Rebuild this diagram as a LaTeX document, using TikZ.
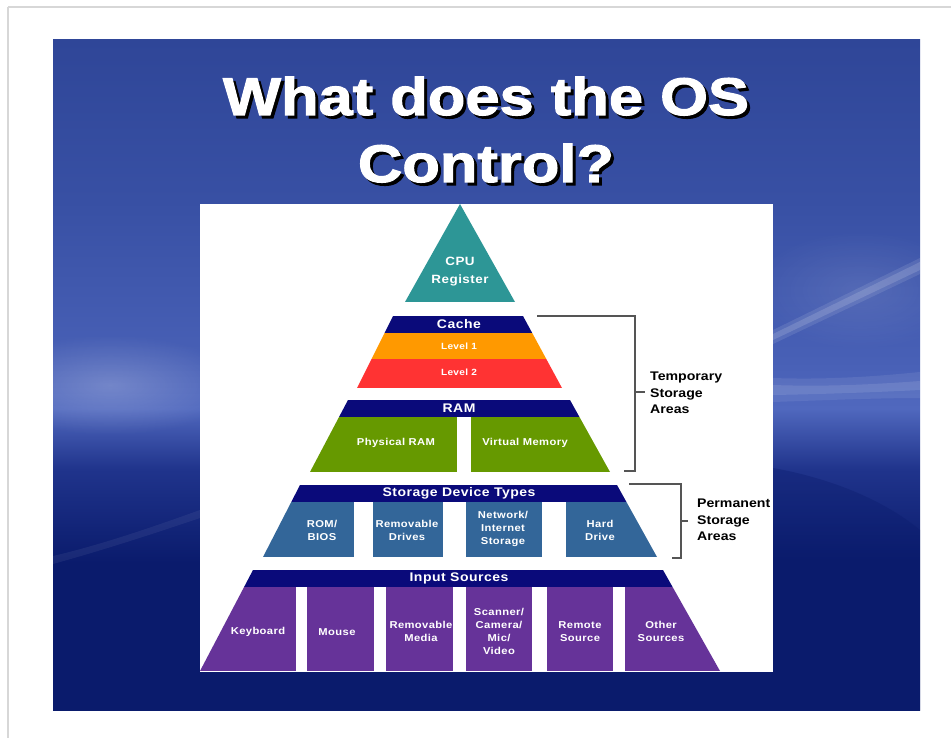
\documentclass[tikz,border=0pt]{standalone}
\usepackage{fontspec}
\setmainfont{Liberation Sans}
\newfontfamily\diagfont{Liberation Sans}[BoldFeatures={FakeStretch=1.12,LetterSpace=4}]
\newfontfamily\sidefont{Liberation Sans}[BoldFeatures={FakeStretch=1.13}]
\newfontfamily\titlefont{Liberation Sans}[BoldFeatures={FakeStretch=1.16,FakeBold=2}]
\usetikzlibrary{fadings}
\definecolor{slideA}{RGB}{47,70,152}
\definecolor{bgupper}{RGB}{56,80,164}
\definecolor{bgglowB}{RGB}{72,96,182}
\definecolor{bgglow}{RGB}{80,104,190}
\definecolor{bgmid}{RGB}{32,52,140}
\definecolor{bgnavy}{RGB}{10,27,108}
\definecolor{teal}{RGB}{45,150,150}
\definecolor{navyband}{RGB}{10,10,122}
\definecolor{orangeband}{RGB}{255,153,0}
\definecolor{redband}{RGB}{255,51,51}
\definecolor{greenband}{RGB}{102,153,0}
\definecolor{bluebox}{RGB}{51,102,153}
\definecolor{purplebox}{RGB}{102,51,153}
\definecolor{bracketgray}{RGB}{85,85,85}
\definecolor{pageline}{RGB}{215,215,215}
\pgfdeclareverticalshading{slidebg}{100bp}{color(0bp)=(bgnavy); color(36bp)=(bgnavy); color(43bp)=(bgmid); color(47.5bp)=(bgglow); color(51bp)=(bgglowB); color(63bp)=(bgupper); color(75bp)=(slideA); color(100bp)=(slideA)}
\tikzfading[name=glowfade, inner color=transparent!0, outer color=transparent!100]
\newcommand{\shtxt}[1]{\makebox[0pt][l]{\raisebox{-3pt}{\hspace*{3pt}\textcolor{black}{#1}}}#1}
\begin{document}
\begin{tikzpicture}[x=1pt,y=-1pt,
  boxlbl/.style={text=white, font=\diagfont\bfseries\fontsize{10}{13}\selectfont, align=center, inner sep=0pt},
  bandlbl/.style={text=white, font=\diagfont\bfseries\fontsize{12.5}{14}\selectfont, inner sep=0pt},
  levellbl/.style={text=white, font=\diagfont\bfseries\fontsize{9}{11}\selectfont, inner sep=0pt},
  sidelbl/.style={text=black, font=\sidefont\bfseries\fontsize{12.5}{16.5}\selectfont, align=left, anchor=west, inner sep=0pt},
  bracket/.style={draw=bracketgray, line width=1.2pt},
  titletxt/.style={text=white, font=\titlefont\bfseries\fontsize{53}{60}\selectfont, anchor=base, inner sep=0pt}
]
\useasboundingbox (0,0) rectangle (951,738);
\fill[white] (0,0) rectangle (951,738);
% page border lines
\draw[pageline, line width=1.5pt] (8,7) -- (951,7);
\draw[pageline, line width=1.5pt] (8,7) -- (8,738);

% slide background
\shade[shading=slidebg] (53,40) rectangle (920,710);
\begin{scope}
  \clip (53,40) rectangle (920,710);
  % right side: soft light area and diagonal streak
  \fill[white, opacity=0.10, path fading=glowfade] (860,290) ellipse [x radius=110, y radius=60];
  \fill[white, opacity=0.10] (773,330) -- (920,258) -- (920,274) -- (773,344) -- cycle;
  \fill[white, opacity=0.14] (773,334) -- (920,262) -- (920,270) -- (773,340) -- cycle;
  % right horizontal streak
  \fill[white, opacity=0.08] (773,378) .. controls (830,380) and (880,376) .. (920,372) -- (920,398) .. controls (880,398) and (830,400) .. (773,402) -- cycle;
  \fill[white, opacity=0.10] (773,385) .. controls (830,387) and (880,384) .. (920,381) -- (920,390) .. controls (880,392) and (830,394) .. (773,395) -- cycle;
  % right curved dark region
  \fill[bgnavy, opacity=0.35] (773,468) .. controls (840,480) and (890,505) .. (920,530) -- (920,710) -- (773,710) -- cycle;
  % left glow
  \fill[white, opacity=0.22, path fading=glowfade] (110,385) ellipse [x radius=130, y radius=50];
  % left faint streak
  \fill[white, opacity=0.06] (53,556) .. controls (100,545) and (150,528) .. (200,510) -- (200,518) .. controls (150,535) and (100,551) .. (53,564) -- cycle;
\end{scope}

% title
\node[titletxt] (title1) at (486,115) {\shtxt{What does the OS}};
\node[titletxt] (title2) at (486,182) {\shtxt{Control?}};

% white diagram panel
\fill[white] (200,204) rectangle (773,672);

% CPU triangle
\fill[teal] (460,204) -- (515,302) -- (405,302) -- cycle;
\node[boxlbl, font=\diagfont\bfseries\fontsize{12}{18}\selectfont] (cpu) at (460,272) {CPU\\Register};

% Cache trapezoid
\begin{scope}
  \clip (393,316) -- (523,316) -- (562,388) -- (357,388) -- cycle;
  \fill[navyband] (340,316) rectangle (580,333);
  \fill[orangeband] (340,333) rectangle (580,359);
  \fill[redband] (340,359) rectangle (580,388);
\end{scope}
\node[bandlbl] (cache) at (459,324.5) {Cache};
\node[levellbl] (level1) at (459,346) {Level 1};
\node[levellbl] (level2) at (459,372) {Level 2};

% RAM trapezoid
\begin{scope}
  \clip (348,400) -- (570,400) -- (610,472) -- (310,472) -- cycle;
  \fill[navyband] (300,400) rectangle (620,417);
  \fill[greenband] (300,417) rectangle (620,472);
  \fill[white] (457,417) rectangle (471,473);
\end{scope}
\node[bandlbl] (ram) at (459,408.5) {RAM};
\node[boxlbl] (physram) at (396,443) {Physical RAM};
\node[boxlbl] (virtmem) at (525,443) {Virtual Memory};

% Storage trapezoid
\begin{scope}
  \clip (300,485) -- (617,485) -- (657,557) -- (263,557) -- cycle;
  \fill[navyband] (250,485) rectangle (670,502);
  \fill[bluebox] (250,502) rectangle (670,557);
  \fill[white] (354,502) rectangle (373,558);
  \fill[white] (443,502) rectangle (466,558);
  \fill[white] (542,502) rectangle (566,558);
\end{scope}
\node[bandlbl] (sdt) at (459,493.5) {Storage Device Types};
\node[boxlbl] (rom) at (322,530) {ROM/\\BIOS};
\node[boxlbl] (remdrv) at (407,530) {Removable\\Drives};
\node[boxlbl] (netstor) at (503,529) {Network/\\Internet\\Storage};
\node[boxlbl] (hdd) at (600,530) {Hard\\Drive};

% Input trapezoid
\begin{scope}
  \clip (253,570) -- (663,570) -- (720,671) -- (200,671) -- cycle;
  \fill[navyband] (190,570) rectangle (730,587);
  \fill[purplebox] (190,587) rectangle (730,671);
  \fill[white] (296,587) rectangle (307,672);
  \fill[white] (374,587) rectangle (386,672);
  \fill[white] (453,587) rectangle (466,672);
  \fill[white] (532,587) rectangle (547,672);
  \fill[white] (613,587) rectangle (625,672);
\end{scope}
\node[bandlbl] (inputs) at (459,578.5) {Input Sources};
\node[boxlbl] (kbd) at (258,632) {Keyboard};
\node[boxlbl] (mouse) at (337,632) {Mouse};
\node[boxlbl] (remmed) at (421,631.5) {Removable\\Media};
\node[boxlbl] (scanner) at (499,631.5) {Scanner/\\Camera/\\Mic/\\Video};
\node[boxlbl] (remsrc) at (580,631.5) {Remote\\Source};
\node[boxlbl] (othsrc) at (661,631.5) {Other\\Sources};

% Temporary bracket
\coordinate (tA) at (537,316);
\coordinate (tB) at (635,316);
\coordinate (tC) at (635,471);
\coordinate (tD) at (624,471);
\coordinate (tM) at (635,392);
\coordinate (tT) at (645,392);
\draw[bracket] (tA) -- (tB) -- (tC) -- (tD);
\draw[bracket] (tM) -- (tT);
\node[sidelbl] (temp) at (650,393) {Temporary\\Storage\\Areas};

% Permanent bracket
\coordinate (pA) at (629,484);
\coordinate (pB) at (681,484);
\coordinate (pC) at (681,558);
\coordinate (pD) at (672,558);
\coordinate (pM) at (681,521);
\coordinate (pT) at (688,521);
\draw[bracket] (pA) -- (pB) -- (pC) -- (pD);
\draw[bracket] (pM) -- (pT);
\node[sidelbl] (perm) at (697,520) {Permanent\\Storage\\Areas};
\end{tikzpicture}
\end{document}
